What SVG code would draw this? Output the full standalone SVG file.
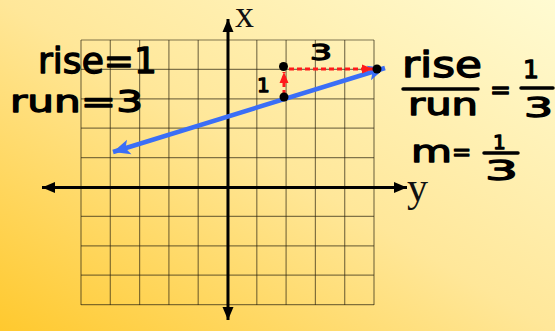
<svg xmlns="http://www.w3.org/2000/svg" width="555" height="331" viewBox="0 0 555 331">
<defs>
<linearGradient id="bg" x1="0" y1="1" x2="1" y2="0">
<stop offset="0" stop-color="#ffc92e"/>
<stop offset="0.5" stop-color="#ffe799"/>
<stop offset="1" stop-color="#fffbd2"/>
</linearGradient>
<marker id="ah" markerUnits="userSpaceOnUse" markerWidth="14" markerHeight="14" viewBox="0 0 14 14" refX="13" refY="7" orient="auto-start-reverse">
<path d="M0,1.5 L13,7 L0,12.5 z" fill="#000"/>
</marker>
<marker id="bh" markerUnits="userSpaceOnUse" markerWidth="18" markerHeight="18" viewBox="0 0 18 18" refX="17" refY="9" orient="auto-start-reverse">
<path d="M0,1.5 L17,9 L0,16.5 L4,9 z" fill="#3b6ef6"/>
</marker>
<marker id="rh" markerUnits="userSpaceOnUse" markerWidth="12" markerHeight="12" viewBox="0 0 12 12" refX="11" refY="6" orient="auto">
<path d="M0,1.5 L11,6 L0,10.5 z" fill="#ff1a1a"/>
</marker>
</defs>
<style>
.grid line{stroke:#2b2410;stroke-opacity:0.6;stroke-width:1.2}
.axis{stroke:#000;stroke-width:3;fill:none}
.hand{font-family:"DejaVu Sans","Open Sans",sans-serif;font-weight:400;fill:#000;stroke:#000;stroke-width:1.3;stroke-linejoin:round}
.ser{font-family:"Liberation Serif","DejaVu Serif",serif;fill:#111}
.dot{fill:#000}
.bar{stroke:#000;stroke-width:3.5;stroke-linecap:round}
</style>
<rect width="555" height="331" fill="url(#bg)"/>
<g id="grid" class="grid">
<line x1="81" y1="40" x2="81" y2="305"/>
<line x1="110.3" y1="40" x2="110.3" y2="305"/>
<line x1="139.6" y1="40" x2="139.6" y2="305"/>
<line x1="168.9" y1="40" x2="168.9" y2="305"/>
<line x1="198.2" y1="40" x2="198.2" y2="305"/>
<line x1="227.5" y1="40" x2="227.5" y2="305"/>
<line x1="256.8" y1="40" x2="256.8" y2="305"/>
<line x1="286.1" y1="40" x2="286.1" y2="305"/>
<line x1="315.4" y1="40" x2="315.4" y2="305"/>
<line x1="344.7" y1="40" x2="344.7" y2="305"/>
<line x1="374" y1="40" x2="374" y2="305"/>
<line x1="81" y1="40" x2="374" y2="40"/>
<line x1="81" y1="69.4" x2="374" y2="69.4"/>
<line x1="81" y1="98.8" x2="374" y2="98.8"/>
<line x1="81" y1="128.2" x2="374" y2="128.2"/>
<line x1="81" y1="157.6" x2="374" y2="157.6"/>
<line x1="81" y1="187" x2="374" y2="187"/>
<line x1="81" y1="216.4" x2="374" y2="216.4"/>
<line x1="81" y1="245.8" x2="374" y2="245.8"/>
<line x1="81" y1="275.2" x2="374" y2="275.2"/>
<line x1="81" y1="304.6" x2="374" y2="304.6"/>
</g>
<g id="axes">
<line class="axis" x1="228" y1="320" x2="228" y2="19" marker-start="url(#ah)" marker-end="url(#ah)"/>
<line class="axis" x1="42" y1="187.5" x2="407" y2="187.5" marker-start="url(#ah)" marker-end="url(#ah)"/>
<text id="xlabel" class="ser" x="235" y="27" font-size="38">x</text>
<text id="ylabel" class="ser" x="407" y="201" font-size="42">y</text>
</g>
<g id="connectors">
<line id="line" x1="113" y1="152" x2="385" y2="68" stroke="#3b6ef6" stroke-width="4.5" marker-start="url(#bh)" marker-end="url(#bh)"/>
<line id="rise" x1="284" y1="94" x2="284" y2="72" stroke="#ff1a1a" stroke-width="3" stroke-dasharray="4 3" marker-end="url(#rh)"/>
<line id="run" x1="289" y1="69" x2="373" y2="69" stroke="#ff1a1a" stroke-width="3.2" stroke-dasharray="5 3" marker-end="url(#rh)"/>
</g>
<g id="points">
<circle class="dot" cx="283.5" cy="66.5" r="4.5"/>
<circle class="dot" cx="284" cy="97" r="4.5"/>
<circle class="dot" cx="377" cy="69" r="4.5"/>
</g>
<g id="labels-left">
<text class="hand" x="38" y="73" font-size="36" textLength="119" lengthAdjust="spacingAndGlyphs">rise=1</text>
<text class="hand" x="10" y="112" font-size="31" textLength="133" lengthAdjust="spacingAndGlyphs">run=3</text>
</g>
<g id="labels-graph">
<text class="hand" x="257" y="92" font-size="20" stroke-width="0.8">1</text>
<text class="hand" x="310" y="60" font-size="21" stroke-width="0.8" textLength="22" lengthAdjust="spacingAndGlyphs">3</text>
</g>
<g id="formula">
<text class="hand" x="402" y="77" font-size="36" textLength="80" lengthAdjust="spacingAndGlyphs">rise</text>
<line class="bar" x1="403" y1="89" x2="478" y2="89"/>
<text class="hand" x="408" y="115" font-size="30" textLength="70" lengthAdjust="spacingAndGlyphs">run</text>
<text class="hand" x="490" y="98" font-size="25">=</text>
<text class="hand" x="523" y="78" font-size="25">1</text>
<line class="bar" x1="521" y1="88" x2="553" y2="88"/>
<text class="hand" x="524" y="117" font-size="27" textLength="29" lengthAdjust="spacingAndGlyphs">3</text>
</g>
<g id="slope">
<text class="hand" x="411" y="162" font-size="31" textLength="41" lengthAdjust="spacingAndGlyphs">m</text>
<text class="hand" x="452" y="160" font-size="23">=</text>
<text class="hand" x="493" y="149" font-size="20">1</text>
<line class="bar" x1="484" y1="153" x2="518" y2="153"/>
<text class="hand" x="485" y="180" font-size="27" textLength="33" lengthAdjust="spacingAndGlyphs">3</text>
</g>
</svg>
